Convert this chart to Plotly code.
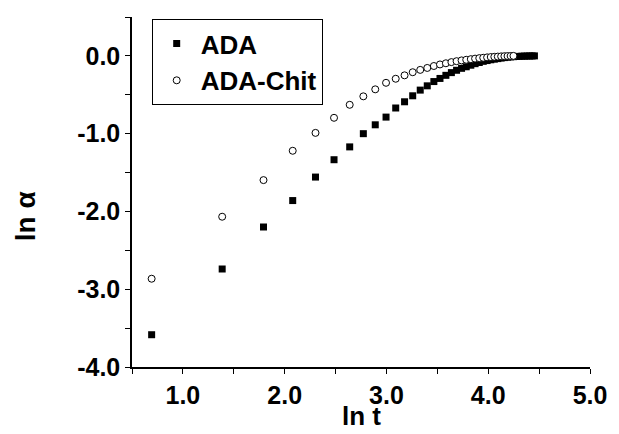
import plotly.graph_objects as go

# ln t values (t = 2, 4, 6, ...)
ada_x = [0.693, 1.386, 1.792, 2.079, 2.303, 2.485, 2.639, 2.773, 2.890, 2.996,
         3.091, 3.178, 3.258, 3.332, 3.401, 3.466, 3.526, 3.584, 3.638, 3.689,
         3.738, 3.784, 3.829, 3.871, 3.912, 3.951, 3.989, 4.025, 4.060, 4.094,
         4.127, 4.159, 4.190, 4.220, 4.248, 4.277, 4.304, 4.331, 4.357, 4.382,
         4.407, 4.431, 4.454]
ada_y = [-3.585, -2.74, -2.20, -1.86, -1.558, -1.335, -1.17, -1.00, -0.886, -0.787,
         -0.67, -0.59, -0.513, -0.44, -0.385, -0.33, -0.29, -0.25, -0.215, -0.185,
         -0.16, -0.14, -0.12, -0.10, -0.085, -0.07, -0.06, -0.05, -0.042, -0.035,
         -0.028, -0.022, -0.017, -0.013, -0.010, -0.008, -0.006, -0.004, -0.003, -0.002,
         -0.001, -0.0005, 0.0]

chit_x = [0.693, 1.386, 1.792, 2.079, 2.303, 2.485, 2.639, 2.773, 2.890, 2.996,
          3.091, 3.178, 3.258, 3.332, 3.401, 3.466, 3.526, 3.584, 3.638, 3.689,
          3.738, 3.784, 3.829, 3.871, 3.912, 3.951, 3.989, 4.025, 4.060, 4.094,
          4.127, 4.159, 4.190, 4.220, 4.248]
chit_y = [-2.865, -2.068, -1.597, -1.22, -0.99, -0.796, -0.629, -0.52, -0.43, -0.346,
          -0.294, -0.25, -0.21, -0.18, -0.155, -0.13, -0.11, -0.095, -0.08, -0.068,
          -0.058, -0.05, -0.042, -0.035, -0.029, -0.024, -0.019, -0.015, -0.012, -0.009,
          -0.006, -0.004, -0.002, -0.001, 0.0]

x_ticks = [1.0, 2.0, 3.0, 4.0, 5.0]
x_labels = ["1.0", "2.0", "3.0", "4.0", "5.0"]
y_ticks = [0.0, -1.0, -2.0, -3.0, -4.0]
y_labels = ["0.0", "-1.0", "-2.0", "-3.0", "-4.0"]

FONT = "Liberation Sans, Arial, sans-serif"

fig = go.Figure()
fig.add_trace(go.Scatter(
    x=ada_x, y=ada_y, mode="markers", name="ADA",
    marker=dict(symbol="square", size=7, color="black", line=dict(width=0)),
))
fig.add_trace(go.Scatter(
    x=chit_x, y=chit_y, mode="markers", name="ADA-Chit",
    marker=dict(symbol="circle", size=7, color="white", line=dict(width=1, color="black")),
))

axis_common = dict(
    showline=True, linecolor="black", linewidth=1.5, mirror=False,
    showgrid=False, zeroline=False, ticks="outside", ticklen=5, tickwidth=1.2,
    tickcolor="black",
    tickfont=dict(family=FONT, size=25, color="black", weight="bold"),
)

fig.update_xaxes(
    range=[0.5, 5.0], tickvals=x_ticks, ticktext=x_labels,
    minor=dict(tickvals=[0.5, 1.5, 2.5, 3.5, 4.5], ticks="outside", ticklen=5,
               tickcolor="black", tickwidth=1.2),
    **axis_common,
)
fig.update_yaxes(
    range=[-4.0, 0.5], tickvals=y_ticks, ticktext=y_labels,
    minor=dict(tickvals=[0.5, -0.5, -1.5, -2.5, -3.5], ticks="outside", ticklen=5,
               tickcolor="black", tickwidth=1.2),
    **axis_common,
)

fig.add_annotation(text="ln t", xref="paper", yref="paper", x=0.5, y=-0.189,
                   yanchor="bottom", showarrow=False,
                   font=dict(family=FONT, size=26, color="black", weight="bold"))
fig.add_annotation(text="ln α", xref="paper", yref="paper", x=-0.232, y=0.43,
                   xanchor="center", yanchor="middle", textangle=-90, showarrow=False,
                   font=dict(family=FONT, size=28, color="black", weight="bold"))

fig.update_layout(
    width=619, height=434,
    margin=dict(l=132, r=23, t=17, b=67),
    paper_bgcolor="white", plot_bgcolor="white",
    showlegend=True,
    legend=dict(x=0.043, y=0.994, xanchor="left", yanchor="top",
                bordercolor="black", borderwidth=1, bgcolor="white",
                font=dict(family=FONT, size=26, color="black", weight="bold"),
                tracegroupgap=0, itemwidth=38),
)

fig.write_html("out.html", config={"displayModeBar": False},
               post_script="document.body.style.margin='0px';")
